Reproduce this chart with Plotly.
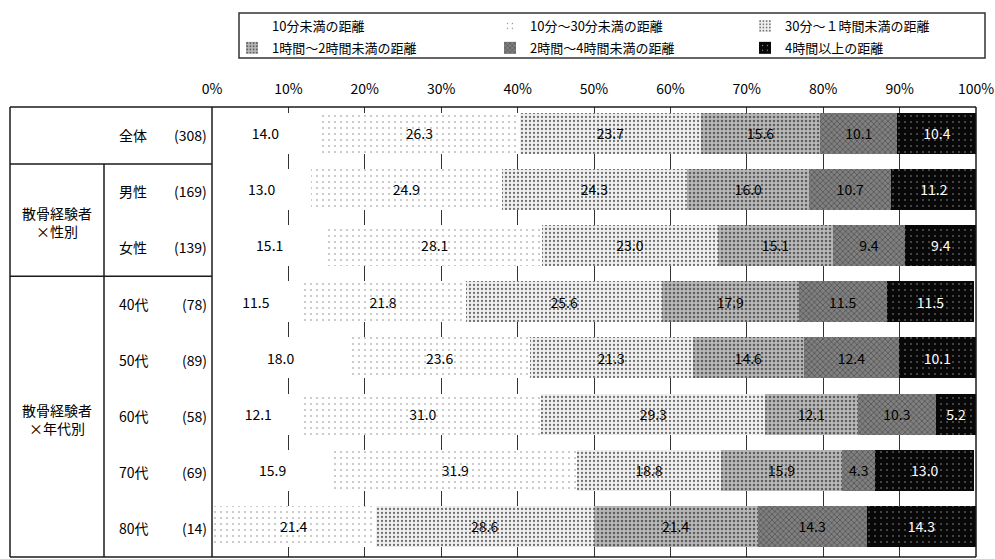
import plotly.graph_objects as go

# ---- data -------------------------------------------------------------
categories = ["全体", "男性", "女性", "40代", "50代", "60代", "70代", "80代"]
counts = [308, 169, 139, 78, 89, 58, 69, 14]

series_names = [
    "10分未満の距離",
    "10分～30分未満の距離",
    "30分～１時間未満の距離",
    "1時間～2時間未満の距離",
    "2時間～4時間未満の距離",
    "4時間以上の距離",
]
under_10min = [14.0, 13.0, 15.1, 11.5, 18.0, 12.1, 15.9, 0.0]
min10_to_30 = [26.3, 24.9, 28.1, 21.8, 23.6, 31.0, 31.9, 21.4]
min30_to_1h = [23.7, 24.3, 23.0, 25.6, 21.3, 29.3, 18.8, 28.6]
h1_to_2 = [15.6, 16.0, 15.1, 17.9, 14.6, 12.1, 15.9, 21.4]
h2_to_4 = [10.1, 10.7, 9.4, 11.5, 12.4, 10.3, 4.3, 14.3]
over_4h = [10.4, 11.2, 9.4, 11.5, 10.1, 5.2, 13.0, 14.3]
series_values = [under_10min, min10_to_30, min30_to_1h, h1_to_2, h2_to_4, over_4h]

groups = [("散骨経験者<br>×性別", 1, 2), ("散骨経験者<br>×年代別", 3, 7)]
tick_values = list(range(0, 101, 10))
tick_labels = [f"{v}%" for v in tick_values]

# ---- styling ----------------------------------------------------------
W, H = 995, 559
PL, PR, PT, PB = 212, 976, 107, 557
JP = "Noto Sans CJK JP"


def fx(p):
    return (p - PL) / (PR - PL)


def fy(p):
    return (PB - p) / (PB - PT)


styles = [
    dict(bg="#ffffff", fg="#ffffff", shape="", size=8, sol=0.1, text="#000000"),
    dict(bg="#ffffff", fg="#8a8a8a", shape=".", size=6, sol=0.06, text="#000000"),
    dict(bg="#f0f0f0", fg="#707070", shape=".", size=4, sol=0.25, text="#000000"),
    dict(bg="#b8b8b8", fg="#5e5e5e", shape=".", size=4, sol=0.3, text="#000000"),
    dict(bg="#808080", fg="#3c3c3c", shape="x", size=4, sol=0.25, text="#000000"),
    dict(bg="#080808", fg="#9a9a9a", shape=".", size=6, sol=0.05, text="#ffffff"),
]
legend_ids = ["legend", "legend2", "legend3", "legend", "legend2", "legend3"]

fig = go.Figure()
for i, (name, vals) in enumerate(zip(series_names, series_values)):
    st = styles[i]
    labels = [f"{v:.1f}" if v > 0 else "" for v in vals]
    fig.add_trace(go.Bar(
        name=name,
        y=categories,
        x=vals,
        orientation="h",
        text=labels,
        textposition="inside",
        insidetextanchor="middle",
        textangle=0,
        textfont=dict(family=JP, size=14, color=st["text"]),
        marker=dict(
            color=st["bg"],
            line=dict(width=0),
            pattern=dict(shape=st["shape"], fgcolor=st["fg"], bgcolor=st["bg"],
                         size=st["size"], solidity=st["sol"], fillmode="replace"),
        ),
        legend=legend_ids[i],
        legendgroup=name,
        hoverinfo="skip",
    ))

legend_common = dict(
    orientation="v", yanchor="top", xanchor="left",
    font=dict(family=JP, size=13, color="#000000"),
    bgcolor="rgba(0,0,0,0)", borderwidth=0, tracegroupgap=2,
    itemclick=False, itemdoubleclick=False,
)

# ---- table frame and plot border -------------------------------------
line = dict(color="#1a1a1a", width=1.5)
shapes = [
    # legend frame
    dict(type="rect", xref="paper", yref="paper", x0=fx(239), x1=fx(985),
         y0=fy(13), y1=fy(58), line=dict(color="#333333", width=1.5)),
    # outer table/plot frame
    dict(type="line", xref="paper", yref="paper", x0=fx(10), x1=1, y0=1, y1=1, line=line),
    dict(type="line", xref="paper", yref="paper", x0=fx(10), x1=1, y0=0, y1=0, line=line),
    dict(type="line", xref="paper", yref="paper", x0=fx(10), x1=fx(10), y0=0, y1=1, line=line),
    dict(type="line", xref="paper", yref="paper", x0=0, x1=0, y0=0, y1=1, line=line),
    dict(type="line", xref="paper", yref="paper", x0=1, x1=1, y0=0, y1=1, line=line),
    # inner table lines
    dict(type="line", xref="paper", yref="y", x0=fx(10), x1=0, y0=0.55, y1=0.55, line=line),
    dict(type="line", xref="paper", yref="y", x0=fx(10), x1=0, y0=2.55, y1=2.55, line=line),
    dict(type="line", xref="paper", yref="y", x0=fx(104), x1=fx(104), y0=0.55,
         y1=7.544, line=line),
]

annotations = []
tfont = dict(family=JP, size=14, color="#000000")
for cat, n in zip(categories, counts):
    annotations.append(dict(xref="paper", yref="y", x=fx(117), y=cat, text=cat,
                            showarrow=False, xanchor="left", font=tfont, yshift=-2))
    annotations.append(dict(xref="paper", yref="y", x=fx(209), y=cat, text=f"({n})",
                            showarrow=False, xanchor="right", font=tfont, yshift=-2))
for label, a, b in groups:
    annotations.append(dict(xref="paper", yref="y", x=fx(57), y=(a + b) / 2 + 0.08,
                            text=label, showarrow=False, xanchor="center",
                            align="center", font=tfont))

fig.update_layout(
    width=W, height=H, autosize=False,
    margin=dict(l=PL, r=W - PR, t=PT, b=H - PB, pad=0),
    paper_bgcolor="#ffffff", plot_bgcolor="#ffffff",
    barmode="stack", bargap=0.27,
    font=dict(family=JP, size=14, color="#000000"),
    xaxis=dict(
        range=[0, 100], side="top", tickvals=tick_values, ticktext=tick_labels,
        showgrid=True, gridcolor="#333333", gridwidth=1, zeroline=False,
        showline=False, ticks="", ticklabelstandoff=9,
        tickfont=dict(family=JP, size=14, color="#000000"), fixedrange=True,
    ),
    yaxis=dict(
        type="category", range=[7.544, -0.463], showticklabels=False,
        showgrid=False, zeroline=False, showline=False, ticks="", fixedrange=True,
    ),
    legend=dict(x=fx(232), y=fy(11), **legend_common),
    legend2=dict(x=fx(490), y=fy(11), **legend_common),
    legend3=dict(x=fx(745), y=fy(11), **legend_common),
    shapes=shapes,
    annotations=annotations,
    showlegend=True,
)

fig.write_html("out.html")
